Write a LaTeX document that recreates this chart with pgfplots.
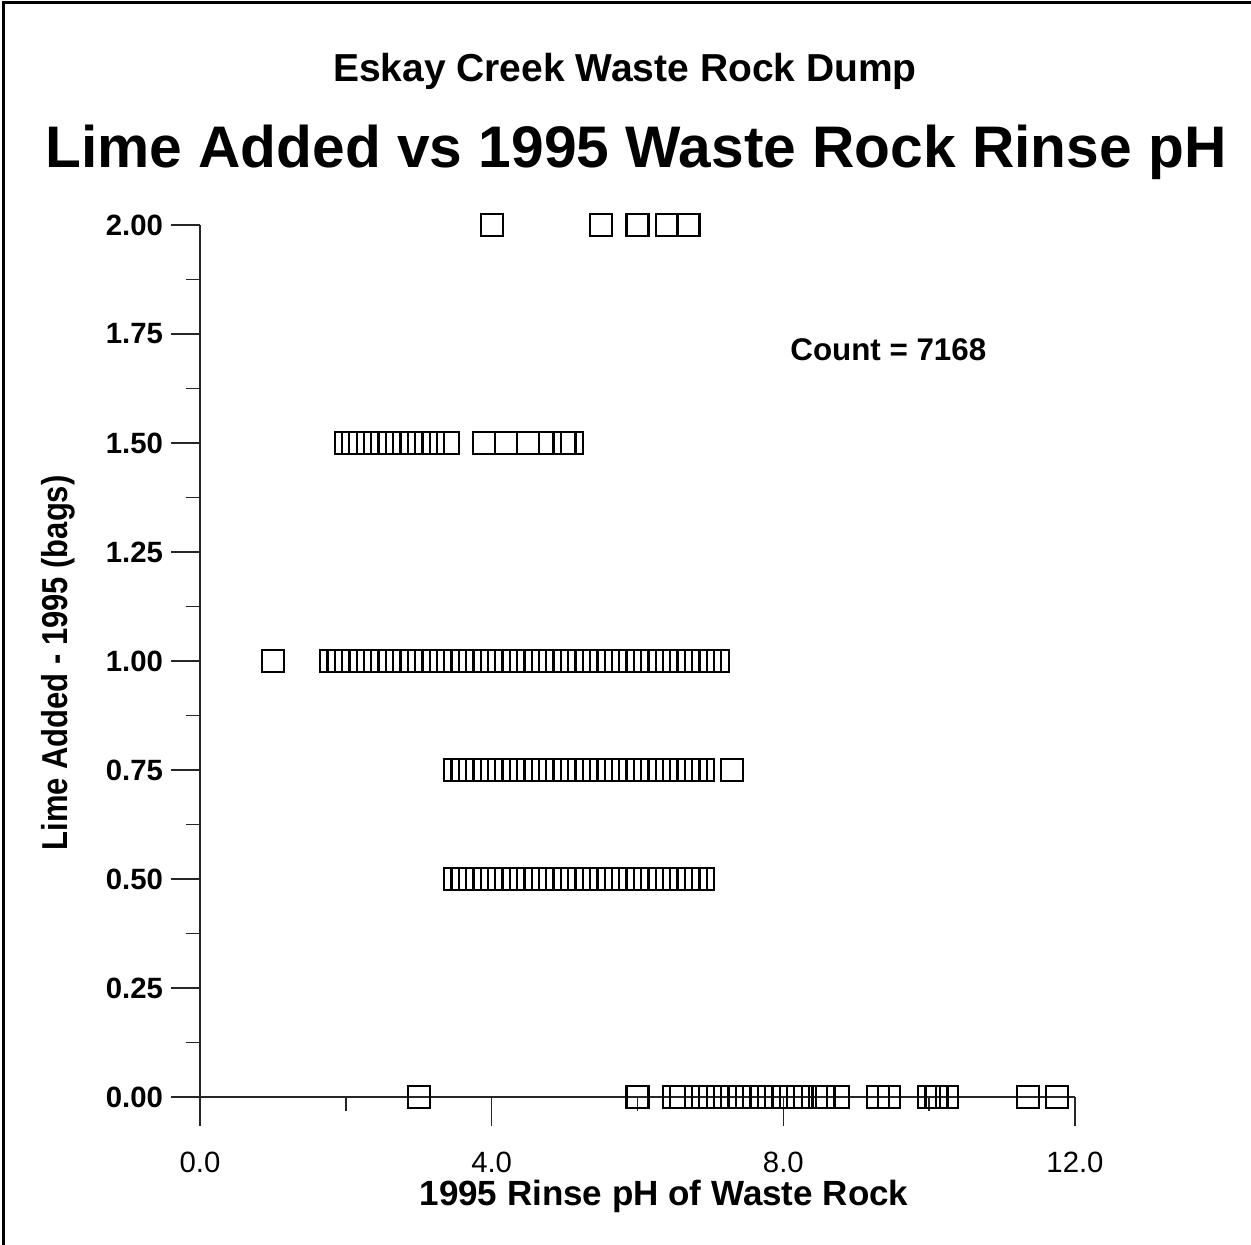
\documentclass[border=0pt]{standalone}
\usepackage{fontspec}
\setmainfont{Liberation Sans}
\usepackage{pgfplots}
\pgfplotsset{compat=1.18}
\begin{document}
\begin{tikzpicture}[x=1pt,y=1pt]
\path[use as bounding box] (-60,-44.4) rectangle (315.3,329.1);
\draw[line width=1pt] (-58.9,-44.4) -- (-58.9,328.4) -- (315.3,328.4);
\begin{axis}[
  at={(0,0)}, anchor=south west,
  scale only axis, width=262.5pt, height=261.6pt,
  xmin=0, xmax=12, ymin=0, ymax=2,
  axis lines*=left,
  axis line style={line width=0.45pt, black!85},
  tick style={line width=0.45pt, black!85},
  tick align=outside,
  major tick length=8.7pt, minor tick length=4.3pt,
  xtick={0,4,8,12}, minor xtick={2,6,10},
  xticklabels={0.0,4.0,8.0,12.0},
  ytick={0,0.25,0.5,0.75,1,1.25,1.5,1.75,2},
  minor ytick={0.125,0.375,0.625,0.875,1.125,1.375,1.625,1.875},
  yticklabels={0.00,0.25,0.50,0.75,1.00,1.25,1.50,1.75,2.00},
  x tick label style={font=\fontsize{8.8}{8.8}\selectfont, yshift=-4.2pt},
  y tick label style={font=\bfseries\fontsize{8.8}{8.8}\selectfont, xshift=1.1pt},
  clip=false,
  sq/.style={only marks, mark=square, mark size=3.3pt, draw=black, mark options={draw=black, fill=none, line width=0.65pt}},
]
% Lime = 2.00
\addplot[sq] coordinates {(4.0,2) (5.5,2) (6.0,2) (6.4,2) (6.7,2)};
% Lime = 1.50
\addplot[sq] coordinates {(2.0,1.5) (2.1,1.5) (2.2,1.5) (2.3,1.5) (2.4,1.5) (2.5,1.5) (2.6,1.5) (2.7,1.5) (2.8,1.5) (2.9,1.5) (3.0,1.5) (3.1,1.5) (3.2,1.5) (3.4,1.5) (3.9,1.5) (4.2,1.5) (4.5,1.5) (4.8,1.5) (5.0,1.5) (5.1,1.5)};
% Lime = 1.00
\addplot[sq] coordinates {(1.0,1) (1.8,1) (1.9,1) (2.0,1) (2.1,1) (2.2,1) (2.3,1) (2.4,1) (2.5,1) (2.6,1) (2.7,1) (2.8,1) (2.9,1) (3.0,1) (3.1,1) (3.2,1) (3.3,1) (3.4,1) (3.5,1) (3.6,1) (3.7,1) (3.8,1) (3.9,1) (4.0,1) (4.1,1) (4.2,1) (4.3,1) (4.4,1) (4.5,1) (4.6,1) (4.7,1) (4.8,1) (4.9,1) (5.0,1) (5.1,1) (5.2,1) (5.3,1) (5.4,1) (5.5,1) (5.6,1) (5.7,1) (5.8,1) (5.9,1) (6.0,1) (6.1,1) (6.2,1) (6.3,1) (6.4,1) (6.5,1) (6.6,1) (6.7,1) (6.8,1) (6.9,1) (7.0,1) (7.1,1)};
% Lime = 0.75
\addplot[sq] coordinates {(3.5,0.75) (3.6,0.75) (3.7,0.75) (3.8,0.75) (3.9,0.75) (4.0,0.75) (4.1,0.75) (4.2,0.75) (4.3,0.75) (4.4,0.75) (4.5,0.75) (4.6,0.75) (4.7,0.75) (4.8,0.75) (4.9,0.75) (5.0,0.75) (5.1,0.75) (5.2,0.75) (5.3,0.75) (5.4,0.75) (5.5,0.75) (5.6,0.75) (5.7,0.75) (5.8,0.75) (5.9,0.75) (6.0,0.75) (6.1,0.75) (6.2,0.75) (6.3,0.75) (6.4,0.75) (6.5,0.75) (6.6,0.75) (6.7,0.75) (6.8,0.75) (6.9,0.75) (7.3,0.75)};
% Lime = 0.50
\addplot[sq] coordinates {(3.5,0.5) (3.6,0.5) (3.7,0.5) (3.8,0.5) (3.9,0.5) (4.0,0.5) (4.1,0.5) (4.2,0.5) (4.3,0.5) (4.4,0.5) (4.5,0.5) (4.6,0.5) (4.7,0.5) (4.8,0.5) (4.9,0.5) (5.0,0.5) (5.1,0.5) (5.2,0.5) (5.3,0.5) (5.4,0.5) (5.5,0.5) (5.6,0.5) (5.7,0.5) (5.8,0.5) (5.9,0.5) (6.0,0.5) (6.1,0.5) (6.2,0.5) (6.3,0.5) (6.4,0.5) (6.5,0.5) (6.6,0.5) (6.7,0.5) (6.8,0.5) (6.9,0.5)};
% Lime = 0.00
\addplot[sq] coordinates {(3.0,0) (6.0,0) (6.5,0) (6.6,0) (6.8,0) (6.9,0) (7.0,0) (7.1,0) (7.2,0) (7.3,0) (7.4,0) (7.5,0) (7.6,0) (7.7,0) (7.8,0) (7.9,0) (8.0,0) (8.1,0) (8.2,0) (8.3,0) (8.55,0) (8.75,0) (9.3,0) (9.45,0) (10.0,0) (10.1,0) (10.25,0) (11.35,0) (11.75,0)};
\node[font=\bfseries\fontsize{9.4}{9.4}\selectfont] at (axis cs:9.44,1.713) {Count = 7168};
\end{axis}
\node[font=\bfseries\fontsize{11.7}{11.7}\selectfont] at (127.5,307.8) {Eskay Creek Waste Rock Dump};
\node[font=\bfseries\fontsize{17.6}{17.6}\selectfont] at (130.8,283.5) {Lime Added vs 1995 Waste Rock Rinse pH};
\node[font=\bfseries\fontsize{10.5}{10.5}\selectfont] at (139.2,-29.7) {1995 Rinse pH of Waste Rock};
\node[font=\bfseries\fontsize{10.8}{10.8}\selectfont, rotate=90] at (-42.6,130.2) {\scalebox{0.86}[1]{Lime Added - 1995 (bags)}};
\end{tikzpicture}
\end{document}
